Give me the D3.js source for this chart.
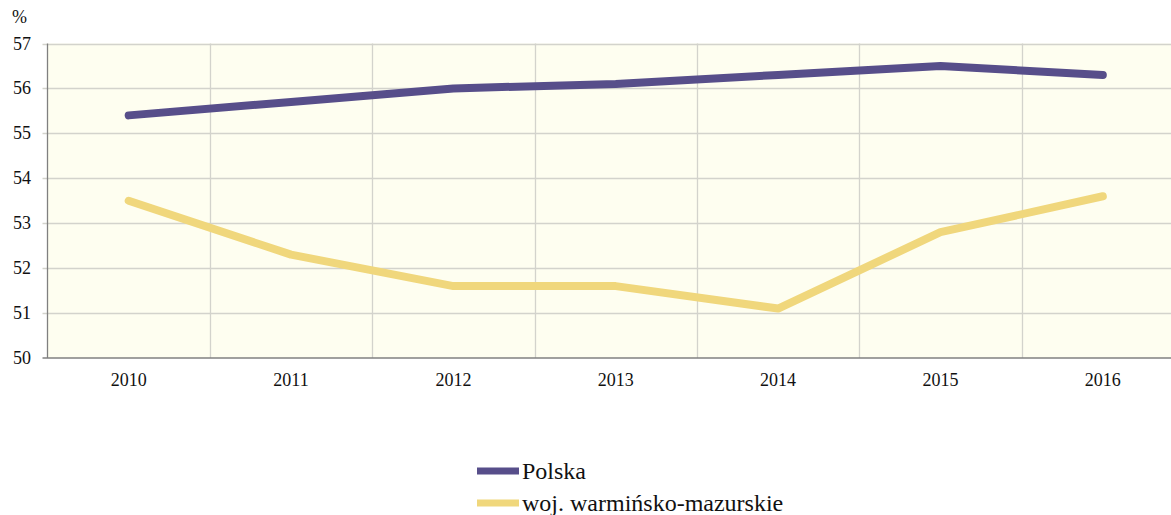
<!DOCTYPE html>
<html><head><meta charset="utf-8">
<script src="https://cdn.jsdelivr.net/npm/d3@7"></script>
<style>body{margin:0;background:#fff;} svg{display:block;} text{font-family:"Liberation Serif","Times New Roman",serif;}</style>
</head><body><svg id="c" width="1171" height="515"></svg>
<script>
const years = ["2010","2011","2012","2013","2014","2015","2016"];
const polska = [55.4, 55.7, 56.0, 56.1, 56.3, 56.5, 56.3];
const warmMaz = [53.5, 52.3, 51.6, 51.6, 51.1, 52.8, 53.6];
const yTicks = [50,51,52,53,54,55,56,57];
const seriesNames = ["Polska","woj. warmińsko-mazurskie"];
const seriesColors = ["#574e8a","#f0d77c"];

(function(){
const FF = "Liberation Serif";
const svg = d3.select("#c");
const pL = 47.5, pR = 1184, pT = 43.5, pB = 358;
const x = d3.scaleBand().domain(years).range([pL, pR]);
const y = d3.scaleLinear().domain([50,57]).range([pB, pT]);

svg.append("rect").attr("x",pL).attr("y",pT).attr("width",pR-pL).attr("height",pB-pT).attr("fill","#fefef0");

svg.append("g").selectAll("line").data(yTicks.slice(1)).join("line")
  .attr("x1",pL-5).attr("x2",pR).attr("y1",d=>Math.round(y(d))+0.5).attr("y2",d=>Math.round(y(d))+0.5)
  .attr("stroke","#d3d3cc").attr("stroke-width",1.3);
svg.append("g").selectAll("line").data(years.slice(1)).join("line")
  .attr("x1",d=>Math.round(x(d))+0.5).attr("x2",d=>Math.round(x(d))+0.5).attr("y1",pT).attr("y2",pB)
  .attr("stroke","#d3d3cc").attr("stroke-width",1.3);

svg.append("line").attr("x1",pL).attr("x2",pL).attr("y1",pT).attr("y2",pB).attr("stroke","#808080").attr("stroke-width",1.3);
svg.append("line").attr("x1",pL-5).attr("x2",pR).attr("y1",pB).attr("y2",pB).attr("stroke","#808080").attr("stroke-width",1.3);

svg.append("g").selectAll("text").data(yTicks).join("text")
  .attr("x",31).attr("y",d=>y(d)+6).attr("text-anchor","end").attr("font-family",FF).attr("font-size",18).attr("fill","#111").text(d=>d);
svg.append("text").attr("x",12).attr("y",23).attr("font-family",FF).attr("font-size",18).attr("fill","#111").text("%");

svg.append("g").selectAll("text").data(years).join("text")
  .attr("x",d=>x(d)+x.bandwidth()/2).attr("y",386).attr("text-anchor","middle").attr("font-family",FF).attr("font-size",18).attr("fill","#111").text(d=>d);

const line = d3.line().x((d,i)=>x(years[i])+x.bandwidth()/2).y(d=>y(d));
[polska, warmMaz].forEach((s,i)=>{
  svg.append("path").datum(s).attr("d",line).attr("fill","none").attr("stroke",seriesColors[i])
    .attr("stroke-width",8).attr("stroke-linejoin","round").attr("stroke-linecap","round");
});

seriesNames.forEach((n,i)=>{
  const ly = 471 + i*32;
  svg.append("line").attr("x1",477).attr("x2",519).attr("y1",ly).attr("y2",ly).attr("stroke",seriesColors[i]).attr("stroke-width",7);
  svg.append("text").attr("x",522).attr("y",ly+8).attr("font-family",FF).attr("font-size",24).attr("fill","#111").text(n);
});
})();
</script></body></html>
